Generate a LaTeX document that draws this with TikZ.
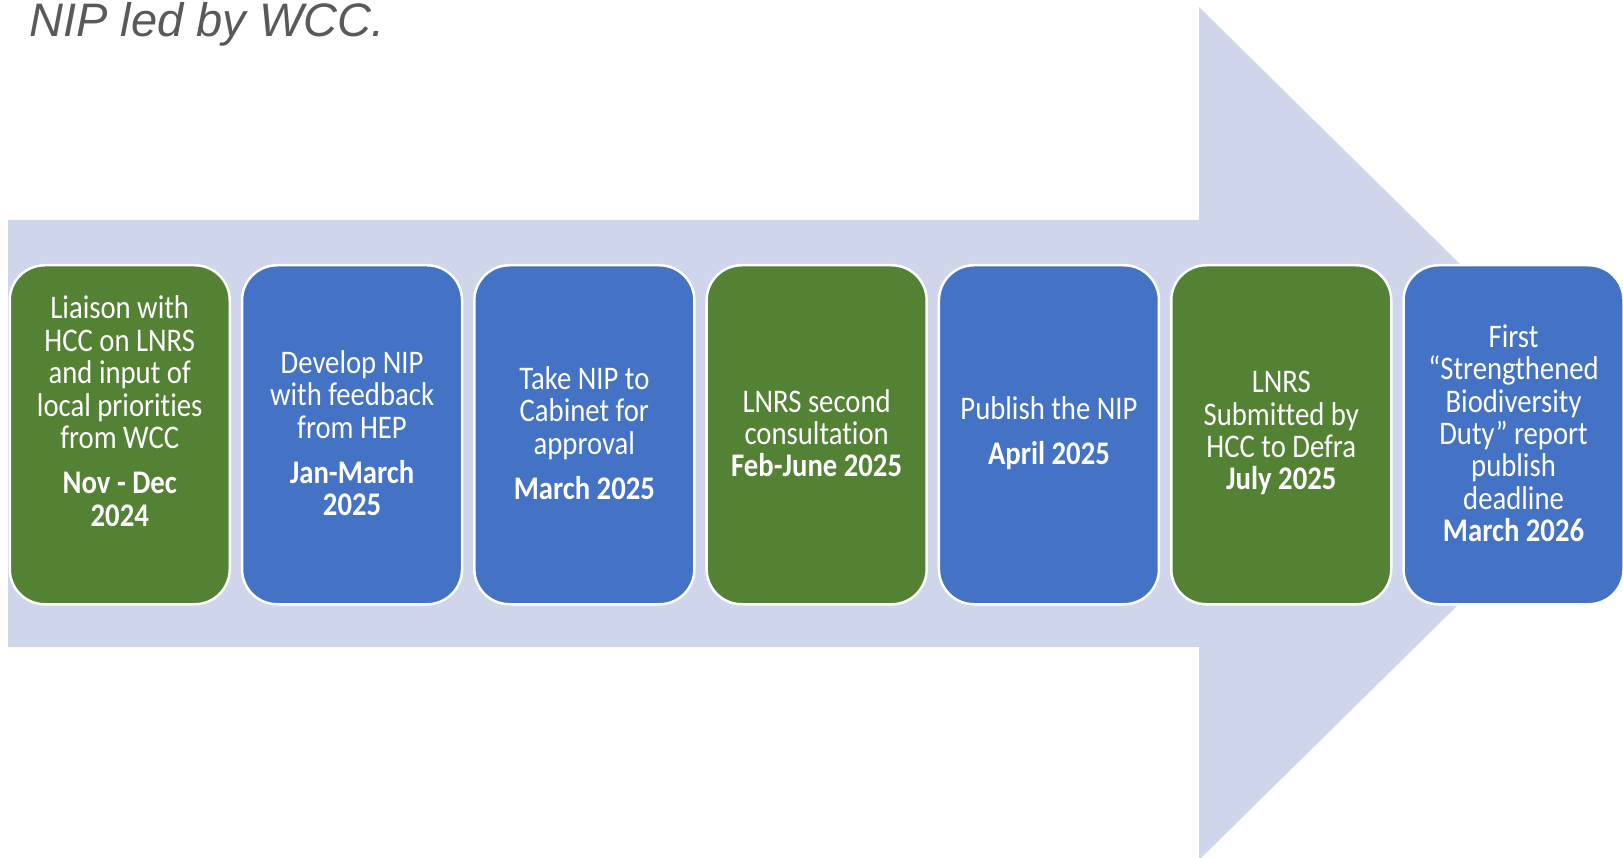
\documentclass[tikz,border=0pt]{standalone}
\usepackage{fontspec}
\setmainfont{Carlito}
\newfontfamily\titlefont{Liberation Sans}
\newfontfamily\boxfont[FakeStretch=0.87,Ligatures=NoCommon]{Carlito}
\definecolor{arrowfill}{HTML}{CFD5EA}
\definecolor{boxgreen}{HTML}{548235}
\definecolor{boxblue}{HTML}{4472C4}
\definecolor{titlegrey}{HTML}{595959}
\tikzset{
  stagebox/.style={rounded corners=35pt, draw=white, line width=2.5pt,
    minimum width=220pt, minimum height=339pt, inner sep=0pt, anchor=north west},
  greenbox/.style={stagebox, fill=boxgreen},
  bluebox/.style={stagebox, fill=boxblue},
  stagetext/.style={text=white, align=center, inner sep=0pt, yshift=1.5pt,
    font=\boxfont\fontsize{33}{32.4}\selectfont},
}
\begin{document}
\begin{tikzpicture}[x=1pt,y=-1pt]
\useasboundingbox (0,0) rectangle (1623,858);
\clip (0,0) rectangle (1623,858);
% big arrow
\fill[arrowfill] (8,220) -- (1199,220) -- (1199,7) -- (1632,433.5) -- (1199,860) -- (1199,647) -- (8,647) -- cycle;
% title
\node[anchor=base west, inner sep=0pt, text=titlegrey, font=\titlefont\itshape\fontsize{47}{50}\selectfont] (title) at (29,37) {NIP led by WCC.};
% boxes
\node[greenbox] (b1) at (8.5,264) {};
\node[bluebox]  (b2) at (240.8,264) {};
\node[bluebox]  (b3) at (473.1,264) {};
\node[greenbox] (b4) at (705.4,264) {};
\node[bluebox]  (b5) at (937.7,264) {};
\node[greenbox] (b6) at (1170.0,264) {};
\node[bluebox]  (b7) at (1402.3,264) {};
% texts
\node[stagetext, yshift=22pt] (t1) at (b1.center) {Liaison with\\HCC on LNRS\\and input of\\local priorities\\from WCC\\[13pt]\textbf{Nov - Dec}\\\textbf{2024}};
\node[stagetext] (t2) at (b2.center) {Develop NIP\\with feedback\\from HEP\\[13pt]\textbf{Jan-March}\\\textbf{2025}};
\node[stagetext] (t3) at (b3.center) {Take NIP to\\Cabinet for\\approval\\[13pt]\textbf{March 2025}};
\node[stagetext] (t4) at (b4.center) {LNRS second\\consultation\\\textbf{Feb-June 2025}};
\node[stagetext] (t5) at (b5.center) {Publish the NIP\\[13pt]\textbf{April 2025}};
\node[stagetext] (t6) at (b6.center) {LNRS\\Submitted by\\HCC to Defra\\\textbf{July 2025}};
\node[stagetext] (t7) at (b7.center) {First\\“Strengthened\\Biodiversity\\Duty” report\\publish\\deadline\\\textbf{March 2026}};
\end{tikzpicture}
\end{document}
